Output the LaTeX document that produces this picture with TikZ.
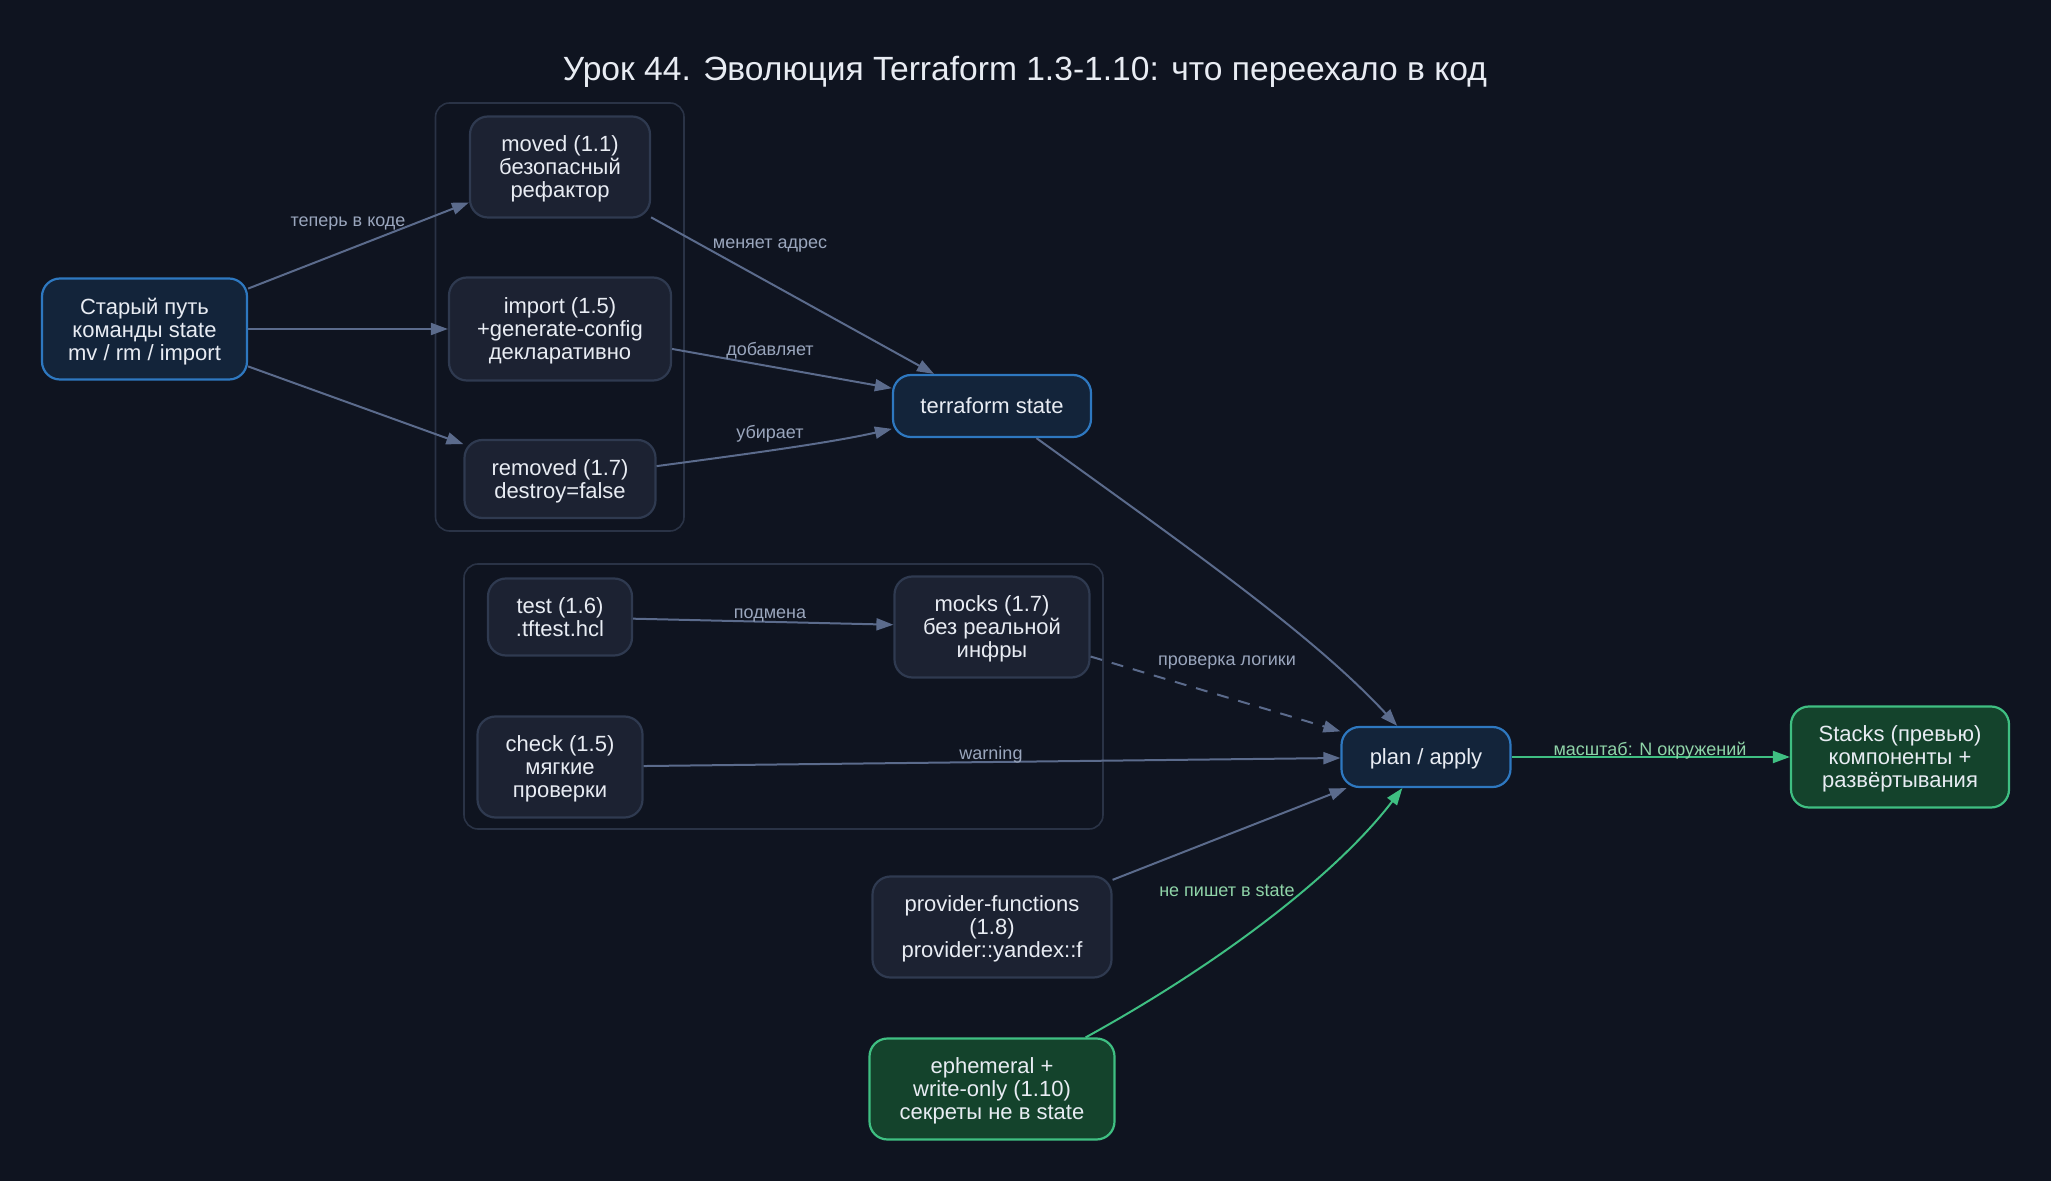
\documentclass[tikz,border=0pt]{standalone}
\usepackage{fontspec}
\setmainfont{Liberation Sans}
\usetikzlibrary{arrows.meta}
\definecolor{bgcol}{HTML}{0F1420}
\definecolor{boxfill}{HTML}{1C2232}
\definecolor{boxline}{HTML}{2F3A50}
\definecolor{bluefill}{HTML}{13243A}
\definecolor{blueline}{HTML}{2E78C0}
\definecolor{greenfill}{HTML}{14432C}
\definecolor{greenline}{HTML}{3FBF82}
\definecolor{edgecol}{HTML}{5B6B8C}
\definecolor{lblcol}{HTML}{9AA6BD}
\definecolor{greenlbl}{HTML}{8FD4A8}
\definecolor{txtcol}{HTML}{E8ECF3}
\definecolor{clustline}{HTML}{2A3346}
\begin{document}
\begin{tikzpicture}[x=0.5pt,y=-0.5pt,
  box/.style={draw=boxline,fill=boxfill,line width=1.1pt,rounded corners=9pt,
    text=txtcol,align=center,inner xsep=4pt,text depth=-1.5pt,
    font=\fontsize{11}{11.5}\selectfont},
  bluebox/.style={box,draw=blueline,fill=bluefill},
  greenbox/.style={box,draw=greenline,fill=greenfill},
  cluster/.style={draw=clustline,line width=0.8pt,rounded corners=7pt},
  edge/.style={draw=edgecol,line width=1pt,-{Triangle[length=8.5pt,width=6pt]}},
  greenedge/.style={edge,draw=greenline,-{Triangle[length=8.5pt,width=6pt]}},
  lbl/.style={text=lblcol,font=\fontsize{9}{10}\selectfont},
  greenlblstyle/.style={lbl,text=greenlbl}]
  \fill[bgcol] (0,0) rectangle (2051,1181);
  \useasboundingbox (0,0) rectangle (2051,1181);

  % title
  \node[text=txtcol,font=\fontsize{16.8}{19}\selectfont] (title) at (1025,72)
    {Урок 44. Эволюция Terraform 1.3-1.10: что переехало в код};

  % clusters
  \draw[cluster] (435.5,103) rectangle (684,531);
  \draw[cluster] (464,564) rectangle (1103,829);

  % nodes
  \node[bluebox,minimum width=102.5pt,minimum height=50.5pt] (old) at (144.5,329)
    {Старый путь\\команды state\\mv / rm / import};
  \node[box,minimum width=90pt,minimum height=50.5pt] (moved) at (560,167)
    {moved (1.1)\\безопасный\\рефактор};
  \node[box,minimum width=111pt,minimum height=51.5pt] (import) at (560,329)
    {import (1.5)\\+generate-config\\декларативно};
  \node[box,minimum width=95.5pt,minimum height=39pt] (removed) at (560,479)
    {removed (1.7)\\destroy=false};
  \node[bluebox,minimum width=99pt,minimum height=31pt] (tfstate) at (992,406)
    {terraform state};
  \node[box,minimum width=72pt,minimum height=38.5pt] (test) at (560,617)
    {test (1.6)\\.tftest.hcl};
  \node[box,minimum width=97.5pt,minimum height=50.5pt] (mocks) at (992,627)
    {mocks (1.7)\\без реальной\\инфры};
  \node[box,minimum width=82.5pt,minimum height=50.5pt] (check) at (560,767)
    {check (1.5)\\мягкие\\проверки};
  \node[bluebox,minimum width=84.5pt,minimum height=30pt] (plan) at (1426,757)
    {plan / apply};
  \node[greenbox,minimum width=109pt,minimum height=50.5pt] (stacks) at (1900,757)
    {Stacks (превью)\\компоненты +\\развёртывания};
  \node[box,minimum width=119.5pt,minimum height=50.5pt] (provider) at (992,927)
    {provider-functions\\(1.8)\\provider::yandex::f};
  \node[greenbox,minimum width=122.5pt,minimum height=50.5pt] (ephemeral) at (992,1089)
    {ephemeral +\\write-only (1.10)\\секреты не в state};

  % edges
  \draw[edge] (old) -- (moved);
  \draw[edge] (old) -- (import);
  \draw[edge] (old) -- (removed);
  \draw[edge] (moved) -- (tfstate);
  \draw[edge] (import) -- (tfstate);
  \draw[edge] (removed) .. controls (740,455) and (830,443) .. (tfstate);
  \draw[edge] (tfstate) .. controls (1190,549) and (1313,635) .. (plan);
  \draw[edge] (test) -- (mocks);
  \draw[edge,dashed,dash pattern=on 6pt off 5pt] (mocks) -- (plan);
  \draw[edge] (check) -- (plan);
  \draw[edge] (provider) -- (plan);
  \draw[greenedge] (ephemeral) .. controls (1228,959) and (1340,870) .. (plan);
  \draw[greenedge] (plan) -- (stacks);

  % edge labels
  \node[lbl] (l1) at (348,224) {теперь в коде};
  \node[lbl] (l2) at (770,246) {меняет адрес};
  \node[lbl] (l3) at (770,351) {добавляет};
  \node[lbl] (l4) at (770,434) {убирает};
  \node[lbl] (l5) at (770,615) {подмена};
  \node[lbl] (l6) at (1227,663) {проверка логики};
  \node[lbl] (l7) at (991,755) {warning};
  \node[greenlblstyle] (l8) at (1227,891) {не пишет в state};
  \node[greenlblstyle] (l9) at (1650,751) {масштаб: N окружений};
\end{tikzpicture}
\end{document}
